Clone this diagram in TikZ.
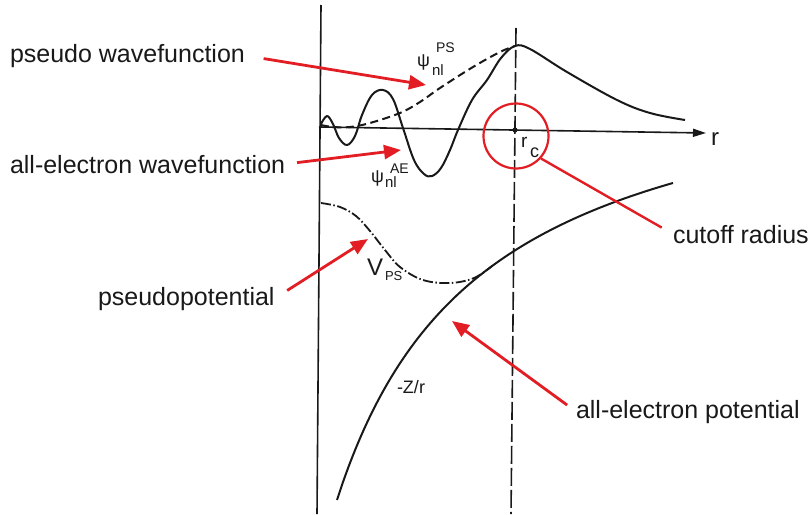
\documentclass[tikz,border=0pt]{standalone}
\usepackage{fontspec}
\setmainfont{Liberation Sans}
\usetikzlibrary{arrows.meta}
\definecolor{arrred}{RGB}{226,30,36}
\definecolor{ink}{RGB}{25,25,25}
\begin{document}
\begin{tikzpicture}[x=1pt,y=-1pt,
  lab/.style={inner sep=0pt,outer sep=0pt,text=ink,font=\fontsize{25}{30}\selectfont},
  sym/.style={inner sep=0pt,outer sep=0pt,anchor=base west,text=ink},
  redarr/.style={draw=arrred,line width=2.8pt,-{Triangle[length=17pt,width=14pt]}},
  redline/.style={draw=arrred,line width=2.4pt},
  curve/.style={draw=ink,line width=2pt,line join=round},
  axis/.style={draw=ink,line width=1.6pt}]
\path[use as bounding box,fill=white] (0,0) rectangle (811,514);

% axes
\coordinate (vtop) at (321,5);
\coordinate (vbot) at (317,514);
\coordinate (hl) at (319,127);
\coordinate (hr) at (706,133);
\draw[axis] (vtop) -- (vbot);
\draw[axis,-{Triangle[length=13pt,width=8pt]}] (hl) -- (hr);
\coordinate (dtop) at (516,28);
\coordinate (dbot) at (511,514);
\draw[axis,dash pattern=on 18pt off 4pt] (dtop) -- (dbot);
\fill[ink] (515,130) circle (2.6pt);

% all-electron wavefunction
\draw[curve] plot[smooth,tension=0.6] coordinates {
 (321,124) (327,116) (333,124) (339,138) (347,145) (355,136) (362,115)
 (372,95) (383,90) (393,99) (403,128) (414,160) (424,174) (432,176)
 (441,168) (450,150) (458,130) (472,100) (487,80) (501,58) (515,46)
 (530,49) (567,72) (617,100) (650,113) (685,120)};
% pseudo wavefunction
\draw[curve,dash pattern=on 8pt off 4.5pt] plot[smooth,tension=0.6] coordinates {
 (321,125) (333,127) (350,127) (370,123) (400,113) (420,102) (440,88)
 (473,67) (500,52) (515,46)};
% -Z/r
\draw[curve] plot[domain=337:673,samples=60,smooth] (\x,{44.3+669.77/((\x-190)/100)});
% V_PS
\draw[curve,line width=1.8pt,dash pattern=on 10pt off 2.5pt on 1.5pt off 2.5pt]
 plot[smooth,tension=0.6] coordinates {
 (321,203) (340,207) (356,216) (370,231) (385,250) (400,267) (423,280) (450,283)
 (474,278) (492,266)};

% math labels
\node[sym,font=\fontsize{18}{18}\selectfont] (psiPS) at (417,66) {ψ};
\node[sym,font=\fontsize{15}{15}\selectfont] (nlPS) at (432,75) {nl};
\node[sym,font=\fontsize{14}{14}\selectfont] (supPS) at (436,52) {PS};
\node[sym,font=\fontsize{18}{18}\selectfont] (psiAE) at (371,182) {ψ};
\node[sym,font=\fontsize{15}{15}\selectfont] (nlAE) at (385,187) {nl};
\node[sym,font=\fontsize{14}{14}\selectfont] (supAE) at (390,173) {AE};
\node[sym,font=\fontsize{24}{24}\selectfont] (V) at (367,275) {V};
\node[sym,font=\fontsize{13}{13}\selectfont] (Vsub) at (385,280) {PS};
\node[sym,font=\fontsize{18}{18}\selectfont] (Zr) at (397,393) {-Z/r};
\node[sym,font=\fontsize{24}{24}\selectfont] (rlab) at (711,145) {r};
\node[sym,font=\fontsize{19}{19}\selectfont] (rc) at (521,147) {r};
\node[sym,font=\fontsize{18}{18}\selectfont] (rcsub) at (530,157) {c};

% text labels
\node[lab,anchor=base west] (pw) at (10,62) {pseudo wavefunction};
\node[lab,anchor=base west] (aw) at (10,173) {all-electron wavefunction};
\node[lab,anchor=base west] (pp) at (98,305) {pseudopotential};
\node[lab,anchor=base west] (cr) at (673,243) {cutoff radius};
\node[lab,anchor=base west] (ap) at (576,418) {all-electron potential};

% red circle
\node[draw=arrred,circle,line width=2.2pt,minimum size=65pt,inner sep=0pt] (cut) at (516,136) {};

% red tips
\coordinate (tipPW) at (426,85);
\coordinate (tipAW) at (401,150);
\coordinate (tipPP) at (368,239);
\coordinate (tipAP) at (452,321);

\draw[redarr,shorten <=19pt] (pw.east) -- (tipPW);
\draw[redarr,shorten <=12pt] (aw.east) -- (tipAW);
\draw[redarr,shorten <=15pt] (pp.east) -- (tipPP);
\draw[redarr,shorten <=11pt] (ap.west) -- (tipAP);
\draw[redline,shorten >=13pt] (cut.-42) -- (cr.west);
\end{tikzpicture}
\end{document}
